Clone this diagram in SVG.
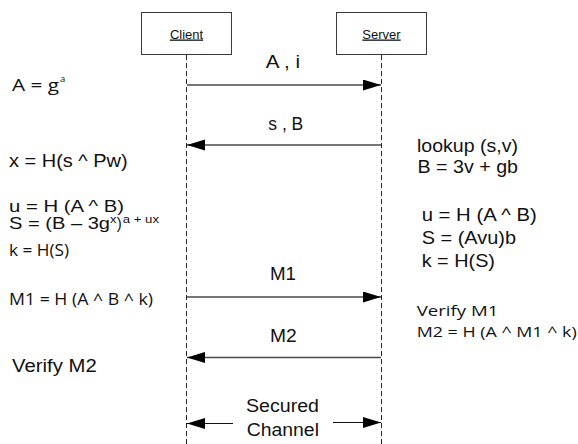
<svg xmlns="http://www.w3.org/2000/svg" width="578" height="444" viewBox="0 0 578 444">
  <style>
    .box { fill: #ffffff; stroke: #3a3a3a; stroke-width: 1; }
    .lifeline { stroke: #222222; stroke-width: 1; stroke-dasharray: 5 3; fill: none; }
    .msg { stroke: #4a4a4a; stroke-width: 1.3; fill: none; marker-end: url(#head); }
    .chan { stroke: #111111; stroke-width: 1; fill: none; marker-end: url(#head); }
    .name { font-family: "Liberation Sans", Arial, sans-serif; font-size: 13px; fill: #111; text-anchor: middle; text-decoration: underline; }
    .t { font-family: "Liberation Sans", Arial, sans-serif; font-size: 17.5px; fill: #111; }
    .tight { font-size: 16.5px; }
    .c { font-family: "Open Sans", "Noto Sans", sans-serif; font-size: 15px; fill: #111; }
    .big { font-size: 16.5px; }
    .sup { font-family: "Liberation Sans", Arial, sans-serif; font-size: 10.5px; fill: #111; }
    .csup { font-family: "Open Sans", "Noto Sans", sans-serif; font-size: 9.5px; fill: #111; }
  </style>
  <defs>
    <marker id="head" markerUnits="userSpaceOnUse" markerWidth="18" markerHeight="12" refX="18" refY="5.5" orient="auto">
      <path d="M0,0 L18,5.5 L0,11 Z" fill="#000"/>
    </marker>
  </defs>

  <!-- participants -->
  <g id="client">
    <rect class="box" x="141.5" y="12.5" width="90" height="42"/>
    <text class="name" x="186.5" y="38.5">Client</text>
  </g>
  <g id="server">
    <rect class="box" x="336.5" y="12.5" width="90" height="42"/>
    <text class="name" x="381.5" y="38.5">Server</text>
  </g>

  <!-- lifelines and messages -->
  <g id="connectors">
    <line class="lifeline" x1="186.5" y1="55" x2="186.5" y2="444"/>
    <line class="lifeline" x1="381.5" y1="55" x2="381.5" y2="444"/>
    <line class="msg" x1="187" y1="85" x2="381" y2="85"/>
    <line class="msg" x1="381" y1="145" x2="187" y2="145"/>
    <line class="msg" x1="187" y1="297" x2="381" y2="297"/>
    <line class="msg" x1="381" y1="357.5" x2="187" y2="357.5"/>
    <line class="chan" x1="233" y1="423.5" x2="187" y2="423.5"/>
    <line class="chan" x1="333" y1="422.5" x2="381" y2="422.5"/>
  </g>

  <!-- message labels -->
  <g id="labels">
    <text class="t" x="265.7" y="68.3" textLength="34.3" lengthAdjust="spacingAndGlyphs">A , i</text>
    <text class="t" x="268.3" y="130" textLength="35" lengthAdjust="spacingAndGlyphs">s , B</text>
    <text class="t" x="270" y="280" textLength="26" lengthAdjust="spacingAndGlyphs">M1</text>
    <text class="t" x="270" y="341.7" textLength="26.7" lengthAdjust="spacingAndGlyphs">M2</text>
    <text class="t" x="246" y="411.7" textLength="73" lengthAdjust="spacingAndGlyphs">Secured</text>
    <text class="t" x="246.7" y="436" textLength="72.3" lengthAdjust="spacingAndGlyphs">Channel</text>
  </g>

  <!-- client-side computations -->
  <g id="client-notes">
    <text class="c big" x="12" y="90.7" textLength="47" lengthAdjust="spacingAndGlyphs">A = g</text>
    <text class="csup" x="60" y="82">a</text>
    <text class="t" x="9" y="166.7" textLength="118.7" lengthAdjust="spacingAndGlyphs">x = H(s ^ Pw)</text>
    <text class="t tight" x="9" y="212" textLength="115" lengthAdjust="spacingAndGlyphs">u = H (A ^ B)</text>
    <text class="t tight" x="9" y="228.5" textLength="101" lengthAdjust="spacingAndGlyphs">S = (B – 3g</text>
    <text class="sup" x="110" y="223" textLength="6.5" lengthAdjust="spacingAndGlyphs">x</text>
    <text class="t tight" x="116.7" y="228.5" textLength="5" lengthAdjust="spacingAndGlyphs">)</text>
    <text class="sup" x="122.7" y="223" textLength="36.3" lengthAdjust="spacingAndGlyphs">a + ux</text>
    <text class="c big" x="9" y="255.5" textLength="60" lengthAdjust="spacingAndGlyphs">k = H(S)</text>
    <text class="c big" x="9" y="305" textLength="144" lengthAdjust="spacingAndGlyphs">M1 = H (A ^ B ^ k)</text>
    <text class="t" x="12" y="371.7" textLength="84.7" lengthAdjust="spacingAndGlyphs">Verify M2</text>
  </g>

  <!-- server-side computations -->
  <g id="server-notes">
    <text class="t" x="417" y="152.3" textLength="101" lengthAdjust="spacingAndGlyphs">lookup (s,v)</text>
    <text class="t" x="417.5" y="173.3" textLength="100.5" lengthAdjust="spacingAndGlyphs">B = 3v + gb</text>
    <text class="t" x="421.7" y="221" textLength="115" lengthAdjust="spacingAndGlyphs">u = H (A ^ B)</text>
    <text class="t" x="421.7" y="244.3" textLength="94.3" lengthAdjust="spacingAndGlyphs">S = (Avu)b</text>
    <text class="t" x="421.7" y="266.7" textLength="73.3" lengthAdjust="spacingAndGlyphs">k = H(S)</text>
    <text class="c" x="416.7" y="316" textLength="81.6" lengthAdjust="spacingAndGlyphs">Verify M1</text>
    <text class="c" x="416.7" y="336.7" textLength="160" lengthAdjust="spacingAndGlyphs">M2 = H (A ^ M1 ^ k)</text>
  </g>
</svg>
